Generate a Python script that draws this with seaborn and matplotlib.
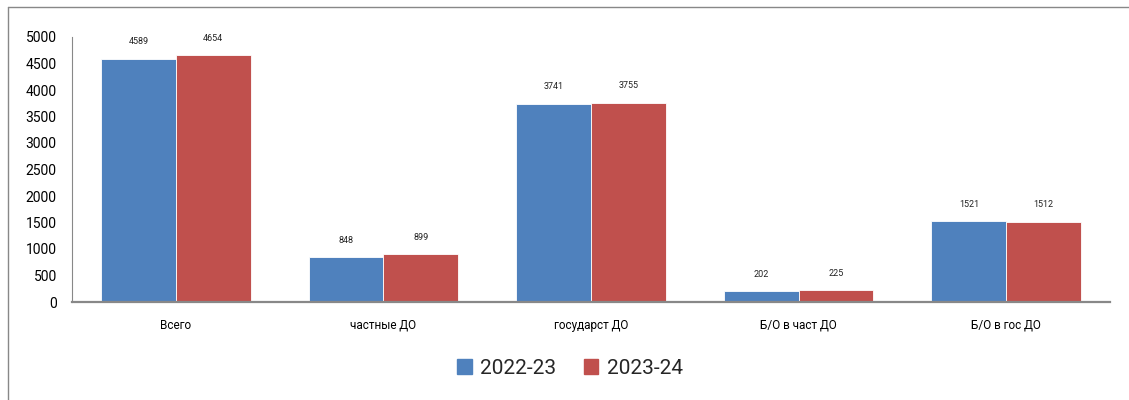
import matplotlib
matplotlib.use('Agg')
import matplotlib.pyplot as plt
from matplotlib.lines import Line2D
import numpy as np
import pandas as pd
import seaborn as sns

# данные с диаграммы
categories = ['Всего', 'частные ДО', 'государст ДО', 'Б/О в част ДО', 'Б/О в гос ДО']
years = ['2022-23', '2023-24']
values_2022 = [4589, 848, 3741, 202, 1521]
values_2023 = [4654, 899, 3755, 225, 1512]
yticks = [0, 500, 1000, 1500, 2000, 2500, 3000, 3500, 4000, 4500, 5000]
colors = ['#4F81BD', '#C0504D']

df = pd.DataFrame({
	'cat': categories * 2,
	'year': [years[0]] * len(categories) + [years[1]] * len(categories),
	'value': values_2022 + values_2023,
})

sns.set_theme(style='white')
plt.rcParams['font.family'] = ['Roboto', 'DejaVu Sans']

fig = plt.figure(figsize=(11.29, 4), dpi=100)
ax = fig.add_axes([72 / 1129, 98 / 400, (1110 - 72) / 1129, (302 - 37) / 400])

sns.barplot(data=df, x='cat', y='value', hue='year', order=categories,
			hue_order=years, palette=colors, width=0.72, saturation=1,
			edgecolor='white', linewidth=0.6, ax=ax)

for cont in ax.containers:
	ax.bar_label(cont, padding=9, fontsize=6.5, color='#222222')

ax.set_ylim(0, 5000)
ax.set_yticks(yticks)
ax.set_xlim(-0.5, len(categories) - 0.5)
ax.set_xlabel('')
ax.set_ylabel('')
ax.tick_params(axis='y', labelsize=10, length=0, pad=11, colors='black')
ax.tick_params(axis='x', labelsize=8.5, length=0, pad=12, colors='black')
for s in ['top', 'right']:
	ax.spines[s].set_visible(False)
ax.spines['left'].set_color('#888888')
ax.spines['left'].set_linewidth(0.8)
ax.spines['bottom'].set_color('#888888')
ax.spines['bottom'].set_linewidth(1.6)

ax.legend_.remove()
handles = [plt.Rectangle((0, 0), 1, 1, color=c) for c in colors]
fig.legend(handles, years, loc='center', bbox_to_anchor=(570 / 1129, 1 - 368 / 400),
		   ncol=2, frameon=False, fontsize=15, handlelength=0.7, handleheight=0.7,
		   handletextpad=0.4, columnspacing=1.3)

# рамка области диаграммы
fig.add_artist(Line2D([8 / 1129, 1], [1 - 7 / 400, 1 - 7 / 400], color='#888888', lw=1))
fig.add_artist(Line2D([8 / 1129, 8 / 1129], [0, 1 - 7 / 400], color='#888888', lw=1))

fig.savefig('out.png', dpi=100)
